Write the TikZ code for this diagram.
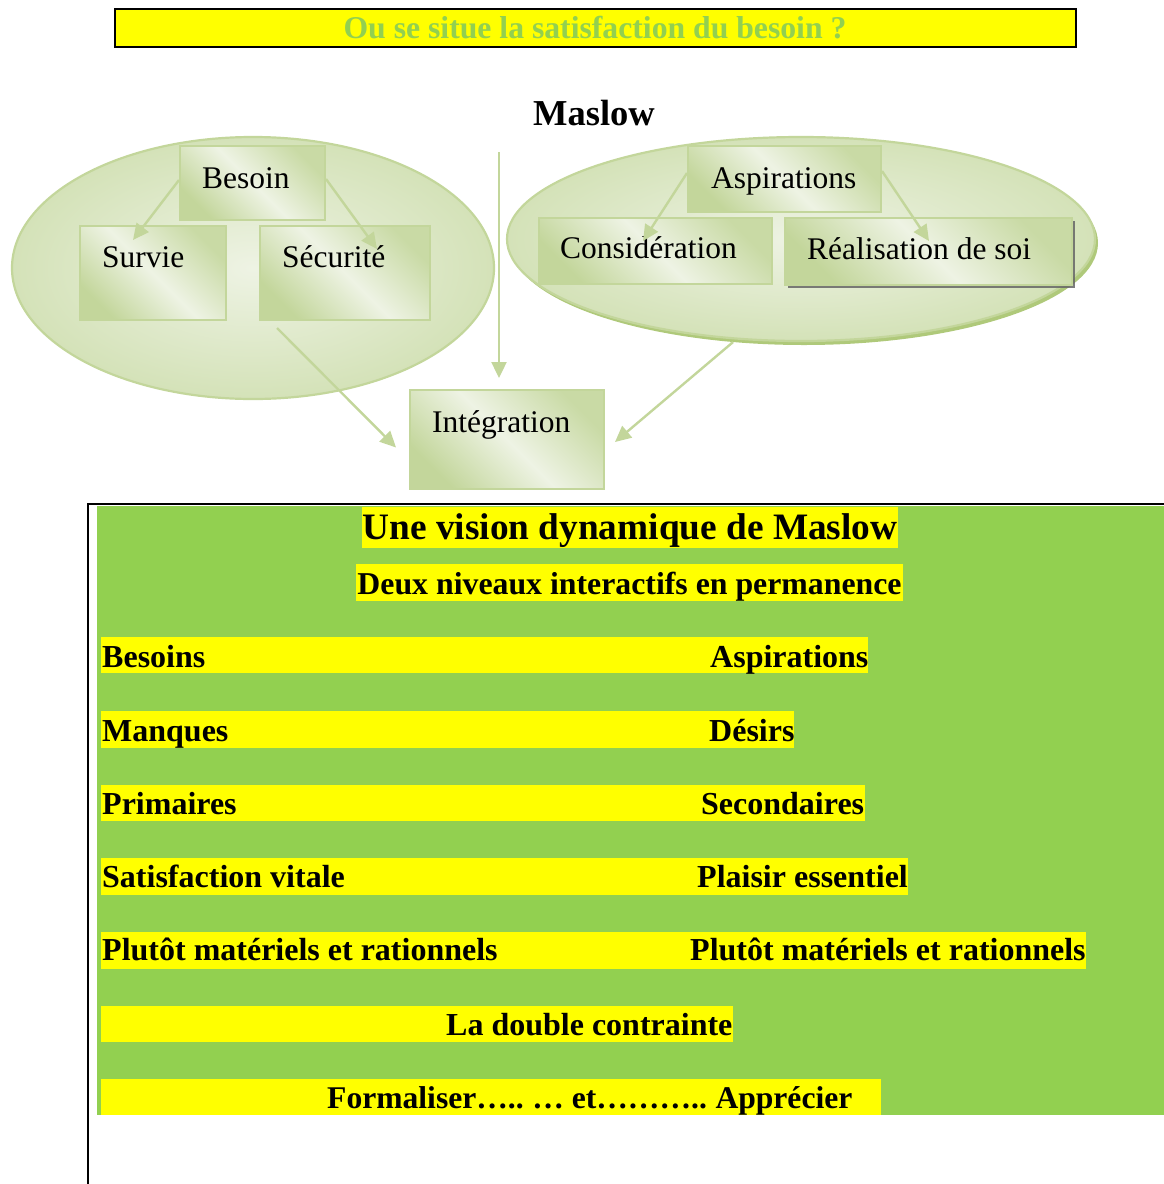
\documentclass[tikz,border=0pt]{standalone}
\usepackage{fontspec}
\setmainfont{Liberation Serif}
\usetikzlibrary{arrows.meta,shapes.geometric,calc,shadows}

\definecolor{olv}{HTML}{C3D69B}
\definecolor{olvdeep}{HTML}{9BBB59}
\definecolor{olvlight}{HTML}{EEF3E4}
\definecolor{olvmid}{HTML}{D4E2B8}
\definecolor{lime}{HTML}{92D050}
\definecolor{hl}{HTML}{FFFF00}

% diagonal band shading for the little boxes: darker corners, light middle
\pgfdeclarehorizontalshading{boxshade}{100bp}{%
  color(0bp)=(olv); color(25bp)=(olv); color(50bp)=(olvlight);
  color(75bp)=(olv!90!white); color(100bp)=(olv!90!white)}

\tikzset{
  bubble/.style={ellipse, draw=olv, line width=2.2pt, inner sep=0pt,
    inner color=olvlight, outer color=olvmid},
  cbox/.style={rectangle, draw=olv, line width=2pt, inner sep=0pt,
    shading=boxshade, shading angle=45},
  lbl/.style={anchor=base west, inner sep=0pt, font=\fontsize{31.5}{34}\selectfont},
  link/.style={draw=olv, line width=2.4pt, -{Triangle[length=16pt,width=15pt]}},
  row/.style={anchor=base west, inner sep=0pt, font=\bfseries\fontsize{32}{34}\selectfont},
  bar/.style={fill=hl},
}

\begin{document}
\begin{tikzpicture}[x=1pt,y=-1pt]
\useasboundingbox (0,0) rectangle (1164,1184);

% ---------- title bar ----------
\node[draw=black, line width=2.5pt, fill=hl, minimum width=961pt, minimum height=38pt,
      inner sep=0pt] (titlebar) at (595.5,28) {};
\node[anchor=base, inner sep=0pt, text=lime, font=\bfseries\fontsize{31.7}{34}\selectfont]
      (titletext) at (595,38) {Ou se situe la satisfaction du besoin ?};

\node[anchor=base, inner sep=0pt, font=\bfseries\fontsize{36.5}{40}\selectfont]
      (maslow) at (594,125) {Maslow};

% ---------- left bubble: needs ----------
\node[bubble, minimum width=482pt, minimum height=262pt] (lell) at (253,268) {};
\node[cbox, minimum width=145pt, minimum height=74pt] (besoin) at (252.5,183) {};
\node[cbox, minimum width=146pt, minimum height=94pt] (survie) at (152.5,273) {};
\node[cbox, minimum width=170pt, minimum height=94pt] (securite) at (345,273) {};
\node[lbl] (tbesoin) at (202,188) {Besoin};
\node[lbl] (tsurvie) at (102,267) {Survie};
\node[lbl] (tsecurite) at (282,267) {Sécurité};

\draw[link] ([yshift=3pt]besoin.west) -- ([shift={(-19.5,15)}]survie.north);
\draw[link] ([yshift=4pt]besoin.east) -- ([shift={(32,24)}]securite.north);

% ---------- right bubble: aspirations ----------
\node[bubble, minimum width=588pt, minimum height=204pt,
      drop shadow={shadow xshift=3pt, shadow yshift=-4pt, fill=olvdeep, opacity=0.8}]
      (rell) at (801,239) {};
\node[cbox, minimum width=193pt, minimum height=66pt] (aspir) at (784.5,179) {};
\node[cbox, minimum width=233pt, minimum height=66pt] (consid) at (655.5,251) {};
\node[cbox, minimum width=287pt, minimum height=67pt,
      drop shadow={shadow xshift=3pt, shadow yshift=-3pt, fill=black!60, opacity=0.85}]
      (realis) at (928.5,251.5) {};
\node[lbl] (taspir) at (711,188) {Aspirations};
\node[lbl] (tconsid) at (560,258) {Considération};
\node[lbl] (trealis) at (807,259) {Réalisation de soi};

\draw[link] ([yshift=6pt]aspir.west) -- ([shift={(-12.5,24)}]consid.north);
\draw[link] ([yshift=8pt]aspir.east) -- ([shift={(0.5,24)}]realis.north);

% ---------- integration ----------
\node[cbox, minimum width=194pt, minimum height=99pt] (integ) at (507,439.5) {};
\node[lbl] (tinteg) at (432,432) {Intégration};

\coordinate (vtop) at (499,152);
\draw[link] (vtop) -- ([shift={(-8,-11)}]integ.north);
\draw[link] ([shift={(-68,7)}]securite.south) -- ([shift={(-13,8)}]integ.west);
\draw[link] ([xshift=-68pt]rell.south) -- ([shift={(10,2.5)}]integ.east);

% ---------- lower panel ----------
\fill[lime] (97,506) rectangle (1164,1115);
\draw[line width=2pt] (88,1184) -- (88,504) -- (1164,504);

\fill[hl] (362,507) rectangle (898,548);
\node[anchor=base, inner sep=0pt, font=\bfseries\fontsize{37.3}{40}\selectfont]
      (vision) at (630,539) {Une vision dynamique de Maslow};
\fill[hl] (356,564) rectangle (903,601);
\node[anchor=base, inner sep=0pt, font=\bfseries\fontsize{31.8}{34}\selectfont]
      (deux) at (629.5,594) {Deux niveaux interactifs en permanence};

\fill[hl] (101,637) rectangle (868,673);
\node[row] (r1a) at (102,667) {Besoins};
\node[row] (r1b) at (710,667) {Aspirations};

\fill[hl] (101,711) rectangle (794,748);
\node[row] (r2a) at (102,741) {Manques};
\node[row] (r2b) at (709,741) {Désirs};

\fill[hl] (101,785) rectangle (865,821);
\node[row] (r3a) at (102,814) {Primaires};
\node[row] (r3b) at (701,814) {Secondaires};

\fill[hl] (101,858) rectangle (908,895);
\node[row] (r4a) at (102,887) {Satisfaction vitale};
\node[row] (r4b) at (697,887) {Plaisir essentiel};

\fill[hl] (101,932) rectangle (1086,969);
\node[row] (r5a) at (102,960) {Plutôt matériels et rationnels};
\node[row] (r5b) at (690,960) {Plutôt matériels et rationnels};

\fill[hl] (101,1006) rectangle (733,1042);
\node[row] (r6) at (446,1035) {La double contrainte};

\fill[hl] (101,1079) rectangle (881,1115);
\node[row, font=\bfseries\fontsize{31.6}{34}\selectfont] (r7) at (327,1108)
      {Formaliser…..\hspace{-2pt} … et………..\hspace{-2pt} Apprécier};
\end{tikzpicture}
\end{document}
